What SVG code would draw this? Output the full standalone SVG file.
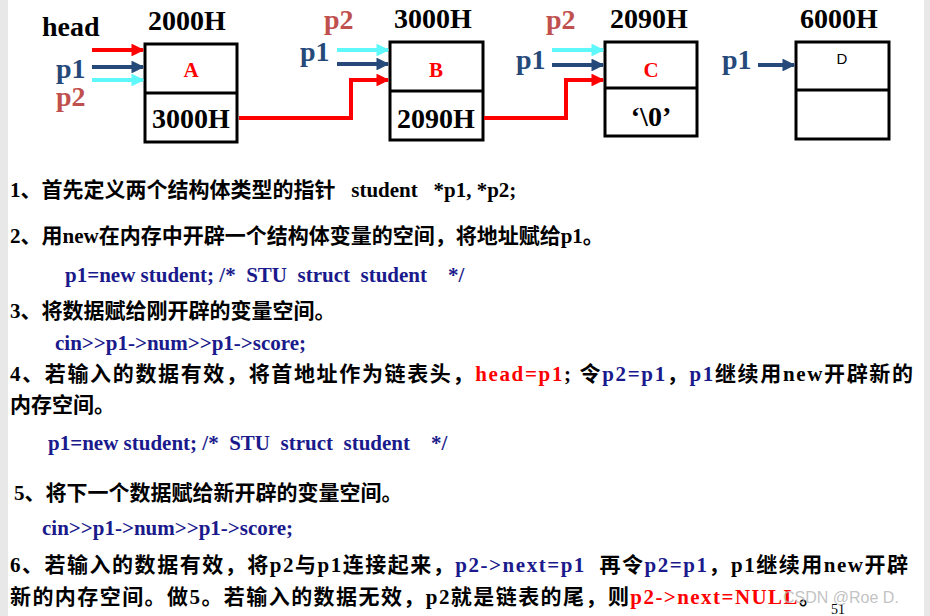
<svg xmlns="http://www.w3.org/2000/svg" width="930" height="616" viewBox="0 0 930 616">
<defs>
<marker id="r" viewBox="0 0 10 10" refX="9" refY="5" markerWidth="3.2" markerHeight="3.2" orient="auto"><path d="M0,0L10,5L0,10z" fill="#ff0000"/></marker>
<marker id="b" viewBox="0 0 10 10" refX="9" refY="5" markerWidth="3.2" markerHeight="3.2" orient="auto"><path d="M0,0L10,5L0,10z" fill="#254a7a"/></marker>
<marker id="c" viewBox="0 0 10 10" refX="9" refY="5" markerWidth="3.2" markerHeight="3.2" orient="auto"><path d="M0,0L10,5L0,10z" fill="#5ef7fa"/></marker>
</defs>
<style>
.box{fill:#fff;stroke:#000;stroke-width:3}
.t{font-family:"Liberation Serif","Noto Sans CJK SC",serif;font-weight:bold;font-size:21px}
.big{font-family:"Liberation Serif",serif;font-weight:bold;font-size:28px}
.lbl{font-family:"Liberation Serif",serif;font-weight:bold;font-size:28px}
.pb{fill:#254a7a}.pr{fill:#c0504d}
.red{fill:#ff0000}.nv{fill:#1a1a8c}
.rl{stroke:#ff0000;stroke-width:4;fill:none}
.bl{stroke:#254a7a;stroke-width:4;fill:none}
.cl{stroke:#5ef7fa;stroke-width:4;fill:none}
</style>
<rect x="0" y="0" width="930" height="616" fill="#fff"/>
<rect x="0" y="0" width="8" height="616" fill="#e8e8e8"/>
<rect x="924" y="0" width="6" height="616" fill="#e8e8e8"/>
<g id="nodeA"><rect class="box" x="145" y="44" width="92" height="98"/><line x1="145" y1="93" x2="237" y2="93" stroke="#000" stroke-width="3"/>
<text class="lbl" x="148" y="30">2000H</text><text class="t red" x="191" y="77" text-anchor="middle">A</text><text class="lbl" x="191" y="128" text-anchor="middle">3000H</text></g>
<g id="nodeB"><rect class="box" x="390" y="42" width="93" height="98"/><line x1="390" y1="91" x2="483" y2="91" stroke="#000" stroke-width="3"/>
<text class="lbl" x="394" y="28">3000H</text><text class="t red" x="436" y="77" text-anchor="middle">B</text><text class="lbl" x="436" y="128" text-anchor="middle">2090H</text></g>
<g id="nodeC"><rect class="box" x="605" y="42" width="92" height="94"/><line x1="605" y1="88" x2="697" y2="88" stroke="#000" stroke-width="3"/>
<text class="lbl" x="610" y="28">2090H</text><text class="t red" x="651" y="77" text-anchor="middle">C</text><text class="lbl" x="651" y="126" text-anchor="middle">‘\0’</text></g>
<g id="nodeD"><rect class="box" x="796" y="42" width="93" height="97"/><line x1="796" y1="90" x2="889" y2="90" stroke="#000" stroke-width="3"/>
<text class="lbl" x="800" y="28">6000H</text><text x="842" y="64" text-anchor="middle" font-family="Liberation Sans,sans-serif" font-size="15">D</text></g>
<g id="labels">
<text class="big" x="42" y="36">head</text>
<text class="big pb" x="56" y="78">p1</text><text class="big pr" x="56" y="106">p2</text>
<text class="big pr" x="324" y="29">p2</text><text class="big pb" x="300" y="61">p1</text>
<text class="big pr" x="546" y="29">p2</text><text class="big pb" x="516" y="69">p1</text>
<text class="big pb" x="722" y="69">p1</text>
</g>
<g id="connectors">
<path class="rl" d="M92,50H143" marker-end="url(#r)"/>
<path class="bl" d="M92,67H143" marker-end="url(#b)"/>
<path class="cl" d="M92,80H143" marker-end="url(#c)"/>
<path class="cl" d="M337,50H388" marker-end="url(#c)"/>
<path class="bl" d="M337,64H388" marker-end="url(#b)"/>
<path class="rl" d="M239,118H351V80H388" marker-end="url(#r)"/>
<path class="cl" d="M552,50H603" marker-end="url(#c)"/>
<path class="bl" d="M552,65H603" marker-end="url(#b)"/>
<path class="rl" d="M484,118H566V80H603" marker-end="url(#r)"/>
<path class="bl" d="M758,65H794" marker-end="url(#b)"/>
</g>
<g id="text">
<text class="t" x="10" y="197" xml:space="preserve">1、首先定义两个结构体类型的指针   student   *p1, *p2;</text>
<text class="t" x="10" y="243">2、用new在内存中开辟一个结构体变量的空间，将地址赋给p1。</text>
<text class="t nv" x="65" y="282" xml:space="preserve">p1=new student; /*  STU  struct  student    */</text>
<text class="t" x="10" y="318">3、将数据赋给刚开辟的变量空间。</text>
<text class="t nv" x="55" y="350">cin&gt;&gt;p1-&gt;num&gt;&gt;p1-&gt;score;</text>
<text class="t" x="10" y="381" textLength="903">4、若输入的数据有效，将首地址作为链表头，<tspan class="red">head=p1</tspan>; 令<tspan class="nv">p2=p1</tspan>，<tspan class="nv">p1</tspan>继续用new开辟新的</text>
<text class="t" x="10" y="412">内存空间。</text>
<text class="t nv" x="48" y="450" xml:space="preserve">p1=new student; /*  STU  struct  student    */</text>
<text class="t" x="14" y="500">5、将下一个数据赋给新开辟的变量空间。</text>
<text class="t nv" x="42" y="535">cin&gt;&gt;p1-&gt;num&gt;&gt;p1-&gt;score;</text>
<text class="t" x="10" y="572" textLength="898" xml:space="preserve">6、若输入的数据有效，将p2与p1连接起来，<tspan class="nv">p2-&gt;next=p1</tspan>  再令<tspan class="nv">p2=p1</tspan>，p1继续用new开辟</text>
<text class="t" x="10" y="604" textLength="810">新的内存空间。做5。若输入的数据无效，p2就是链表的尾，则<tspan class="red">p2-&gt;next=NULL</tspan>。</text>
<text x="831" y="614" font-family="Liberation Serif,serif" font-size="14">51</text>
<text x="783" y="603" font-family="Liberation Sans,sans-serif" font-size="16" fill="#bbbbbb" fill-opacity="0.9">CSDN @Roe D.</text>
</g>
</svg>
